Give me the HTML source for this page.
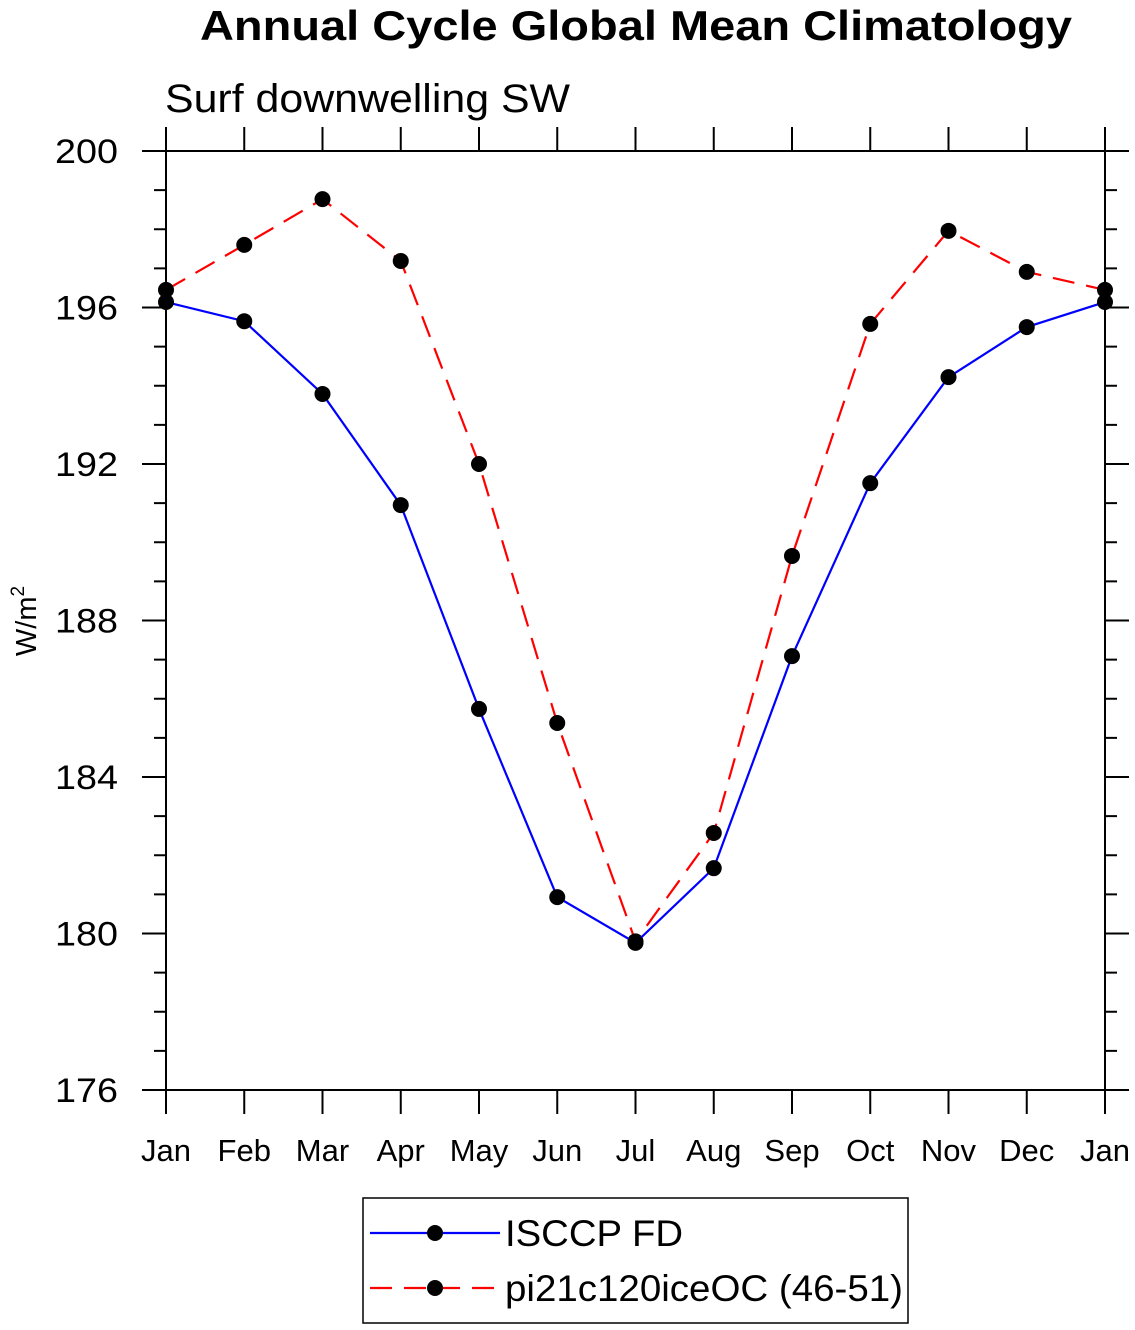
<!DOCTYPE html>
<html><head><meta charset="utf-8"><style>
html,body{margin:0;padding:0;background:#fff;}
svg{display:block;font-family:"Liberation Sans",sans-serif;}
</style></head><body>
<svg id="c" width="1135" height="1330" viewBox="0 0 1135 1330">
<text x="200" y="40" textLength="872" lengthAdjust="spacingAndGlyphs" font-size="42" font-weight="bold">Annual Cycle Global Mean Climatology</text>
<text x="165" y="112" textLength="405" lengthAdjust="spacingAndGlyphs" font-size="40">Surf downwelling SW</text>
<text transform="translate(36,621) rotate(-90)" text-anchor="middle" font-size="29">W/m<tspan dy="-12" font-size="19">2</tspan></text>
<g id="axes"></g>
<g id="series"></g>
<rect x="363" y="1198" width="545" height="125" fill="none" stroke="#000" stroke-width="1.5"/>
<g>
<line x1="370" y1="1233" x2="500" y2="1233" stroke="#0000ff" stroke-width="2.2"/>
<circle cx="435" cy="1233" r="8"/>
<text x="505" y="1246" textLength="178" lengthAdjust="spacingAndGlyphs" font-size="37">ISCCP FD</text>
</g>
<g>
<line x1="370" y1="1288" x2="500" y2="1288" stroke="#ff0000" stroke-width="2.2" stroke-dasharray="22,12"/>
<circle cx="435" cy="1288" r="8"/>
<text x="505" y="1301" textLength="398" lengthAdjust="spacingAndGlyphs" font-size="37">pi21c120iceOC (46-51)</text>
</g>
</svg>
<script>
const months = ["Jan","Feb","Mar","Apr","May","Jun","Jul","Aug","Sep","Oct","Nov","Dec","Jan"];
const isccp = [196.14,195.65,193.79,190.95,185.74,180.93,179.76,181.67,187.09,191.51,194.22,195.50,196.14];
const model = [196.45,197.60,198.77,197.19,192.00,185.38,179.80,182.57,189.65,195.58,197.96,196.91,196.45];
const yTicks = [176,180,184,188,192,196,200];

const X0=166,X1=1105,Y0=1090,Y1=151,YMIN=176,YMAX=200;
const xs=i=>X0+(X1-X0)*i/(months.length-1);
const ys=v=>Y0-(v-YMIN)/(YMAX-YMIN)*(Y0-Y1);
const NS="http://www.w3.org/2000/svg";
function mk(t,a,p){const e=document.createElementNS(NS,t);for(const k in a)e.setAttribute(k,a[k]);p.appendChild(e);return e;}
const ax=document.getElementById('axes');
const frame=mk('rect',{x:X0,y:Y1,width:X1-X0,height:Y0-Y1,fill:'none',stroke:'#000','stroke-width':2},ax);


months.forEach((m,i)=>{
  const x=xs(i);
  mk('line',{x1:x,y1:Y0,x2:x,y2:Y0+24,stroke:'#000','stroke-width':2},ax);
  mk('line',{x1:x,y1:Y1,x2:x,y2:Y1-24,stroke:'#000','stroke-width':2},ax);
  const t=mk('text',{x:x,y:Y0+71,'text-anchor':'middle','font-size':31},ax);
  t.textContent=m;
  
  
});
for(let v=YMIN;v<=YMAX;v+=1){
  const y=ys(v);const major=yTicks.includes(v);const L=major?24:12;
  mk('line',{x1:X0,y1:y,x2:X0-L,y2:y,stroke:'#000','stroke-width':2},ax);
  mk('line',{x1:X1,y1:y,x2:X1+L,y2:y,stroke:'#000','stroke-width':2},ax);
}
yTicks.forEach(v=>{
  const t=mk('text',{x:118,y:ys(v)+12,'text-anchor':'end','font-size':34,textLength:63,lengthAdjust:'spacingAndGlyphs'},ax);
  t.textContent=v;
  
  
});
const sg=document.getElementById('series');
function series(vals,color,dash,name){
  const g=mk('g',{},sg);
  
  
  const a={points:vals.map((v,i)=>xs(i)+','+ys(v)).join(' '),fill:'none',stroke:color,'stroke-width':2.2};
  if(dash)a['stroke-dasharray']=dash;
  mk('polyline',a,g);
  vals.forEach((v,i)=>{
    const c=mk('circle',{cx:xs(i),cy:ys(v),r:8,fill:'#000'},g);
    
    
  });
}
series(model,'#ff0000','22,12','series-model');
series(isccp,'#0000ff',null,'series-isccp');
</script>
</body></html>
